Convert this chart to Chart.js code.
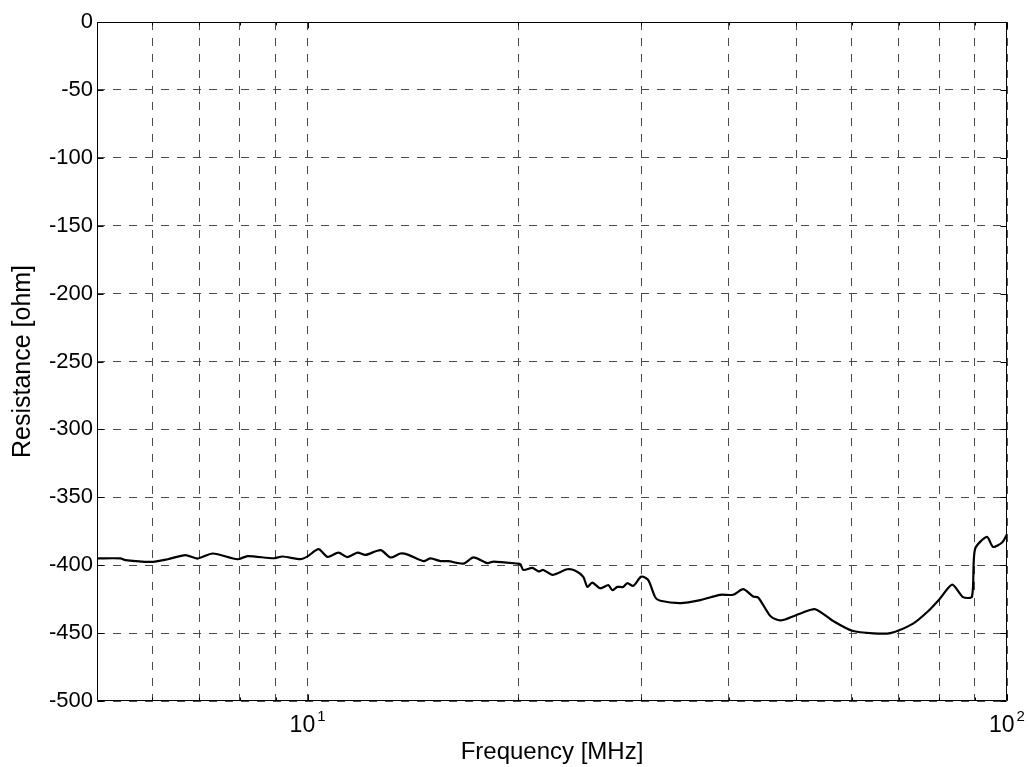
<!DOCTYPE html>
<html>
<head>
<meta charset="utf-8">
<script src="https://cdn.jsdelivr.net/npm/chart.js@4.4.1/dist/chart.umd.min.js"></script>
<style>
    html, body { margin: 0; padding: 0; background: #ffffff; }
    #contenedor { width: 1030px; height: 767px; position: relative; }
</style>
</head>
<body>
<div id="contenedor"><canvas id="grafico"></canvas></div>
<script>
const frecuencias = [5.0, 5.40, 5.49, 5.97, 6.31, 6.69, 6.96, 7.32, 7.94, 8.21, 8.94, 9.21, 9.77, 10.0,
    10.37, 10.68, 11.07, 11.40, 11.79, 12.10, 12.72, 13.14, 13.58, 13.94, 14.65, 14.99, 15.49, 15.90,
    16.71, 17.27, 18.08, 18.44, 19.95, 20.15, 20.35, 20.96, 21.38, 21.73, 22.39, 23.51, 24.15, 24.79,
    25.12, 25.53, 26.21, 26.92, 27.27, 27.73, 28.27, 28.65, 29.22, 30.0, 30.70, 31.42, 31.94, 34.12,
    36.43, 38.90, 40.6, 41.96, 43.36, 44.08, 45.86, 46.93, 47.86, 51.1, 53.2, 56.4, 60.1, 64.4, 68.1,
    73.4, 76.9, 80.2, 83.5, 86.5, 89.1, 90.0, 93.6, 95.5, 98.4, 100];
const resistencia = [-395, -395, -396.3, -397.6, -395.6, -392.6, -395.1, -391.4, -395.6, -393.3, -394.9, -393.6, -395.6, -393.5,
    -388.2, -393.9, -390.7, -394, -390.7, -392.4, -388.9, -394.3, -391.4, -392.4, -397, -395, -397, -397,
    -398.8, -394.3, -398.5, -397.3, -398.8, -399.3, -403.5, -402, -404.6, -403.5, -407.1, -403, -404, -408.6,
    -416, -412.8, -417, -414.7, -418.4, -416, -416, -413.2, -415.2, -408.4, -411, -423.8, -426.2, -427.9,
    -425.7, -421.8, -421.8, -417.6, -423, -423.8, -437.3, -440.2, -440.4, -434.8, -432.4, -441, -448.3, -450.2, -450,
    -443, -434.5, -424.6, -414.3, -423.5, -423.2, -388.2, -379.1, -386.5, -383.3, -377.2];

const xTicks = [6, 7, 8, 9, 10, 20, 30, 40, 50, 60, 70, 80, 90, 100];
const xEtiquetas = { 10: '1', 100: '2' };   // 10^1, 10^2
const yTicks = [0, -50, -100, -150, -200, -250, -300, -350, -400, -450, -500];

const fuente = "'Liberation Sans', Arial, sans-serif";

// marco negro estilo matlab + etiquetas 10^n
const marcoMatlab = {
    id: 'marcoMatlab',
    afterDraw(chart) {
        const { ctx, chartArea: { left, right, top, bottom }, scales: { x, y } } = chart;
        const l = Math.round(left) + 0.5, r = Math.round(right) - 0.5;
        const t = Math.round(top) + 0.5, b = Math.round(bottom) - 0.5;
        ctx.save();
        ctx.strokeStyle = '#000000';
        ctx.lineWidth = 1;
        ctx.setLineDash([]);
        ctx.beginPath();
        yTicks.forEach(v => {
            const py = Math.round(y.getPixelForValue(v)) + 0.5;
            ctx.moveTo(l, py); ctx.lineTo(l + 6, py);
            ctx.moveTo(r, py); ctx.lineTo(r - 6, py);
        });
        xTicks.forEach(v => {
            const px = Math.round(x.getPixelForValue(v)) + 0.5;
            const largo = xEtiquetas[v] ? 6 : 3;
            ctx.moveTo(px, b); ctx.lineTo(px, b - largo);
            ctx.moveTo(px, t); ctx.lineTo(px, t + largo);
        });
        ctx.rect(l, t, r - l, b - t);
        ctx.stroke();

        ctx.fillStyle = '#000000';
        ctx.textBaseline = 'alphabetic';
        Object.keys(xEtiquetas).forEach(k => {
            const px = x.getPixelForValue(Number(k));
            ctx.font = '23px ' + fuente;
            const wBase = ctx.measureText('10').width;
            ctx.font = '15px ' + fuente;
            const wExp = ctx.measureText(xEtiquetas[k]).width;
            const inicio = px - (wBase + 2 + wExp) / 2;
            ctx.font = '23px ' + fuente;
            ctx.fillText('10', inicio, 732);
            ctx.font = '15px ' + fuente;
            ctx.fillText(xEtiquetas[k], inicio + wBase + 2, 721);
        });
        ctx.restore();
    }
};

const grafico = document.getElementById('grafico').getContext('2d');

new Chart(grafico, {
    type: 'scatter',
    plugins: [marcoMatlab],
    data: {
        datasets: [{
            label: 'Resistance',
            data: frecuencias.map((f, i) => ({ x: f, y: resistencia[i] })),
            showLine: true,
            borderColor: '#000000',
            borderWidth: 2.2,
            pointRadius: 0,
            tension: 0.25
        }]
    },
    options: {
        responsive: true,
        maintainAspectRatio: false,
        animation: false,
        layout: {
            padding: { top: 22, right: 23, bottom: 0, left: 0 }
        },
        plugins: {
            legend: { display: false },
            tooltip: { enabled: false }
        },
        scales: {
            x: {
                type: 'logarithmic',
                min: 5,
                max: 100,
                afterBuildTicks: scale => { scale.ticks = xTicks.map(v => ({ value: v })); },
                afterFit: scale => { scale.height = 66; },
                ticks: { display: false },
                grid: { color: '#4a4a4a', lineWidth: 1, drawTicks: false },
                border: { display: false, dash: [8, 8] },
                title: {
                    display: true,
                    text: 'Frequency [MHz]',
                    color: '#000000',
                    padding: { top: 0, bottom: 0 },
                    font: { family: fuente, size: 24 }
                }
            },
            y: {
                min: -500,
                max: 0,
                afterBuildTicks: scale => { scale.ticks = yTicks.map(v => ({ value: v })); },
                afterFit: scale => { scale.width = 97; },
                ticks: {
                    color: '#000000',
                    padding: 4,
                    font: { family: fuente, size: 22 },
                    callback: v => String(v)
                },
                grid: { color: '#4a4a4a', lineWidth: 1, drawTicks: false },
                border: { display: false, dash: [8, 8] },
                title: {
                    display: true,
                    text: 'Resistance [ohm]',
                    color: '#000000',
                    padding: { top: 8, bottom: 0 },
                    font: { family: fuente, size: 25 }
                }
            }
        }
    }
});
</script>
</body>
</html>
